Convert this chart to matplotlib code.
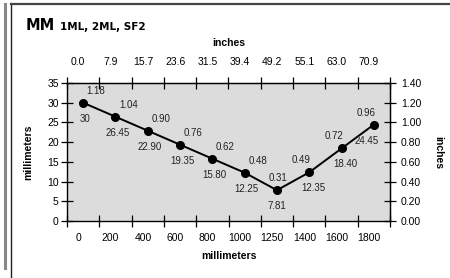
import matplotlib
matplotlib.use("Agg")
import matplotlib.pyplot as plt
import numpy as np
from matplotlib.lines import Line2D

# categories along the bottom (mm) and top (inches)
mm_labels = ["0", "200", "400", "600", "800", "1000", "1250", "1400", "1600", "1800"]
inch_labels = ["0.0", "7.9", "15.7", "23.6", "31.5", "39.4", "49.2", "55.1", "63.0", "70.9"]

# series values
mm_values = [30, 26.45, 22.90, 19.35, 15.80, 12.25, 7.81, 12.35, 18.40, 24.45]
inch_values = [1.18, 1.04, 0.90, 0.76, 0.62, 0.48, 0.31, 0.49, 0.72, 0.96]
mm_value_text = ["30", "26.45", "22.90", "19.35", "15.80", "12.25", "7.81", "12.35", "18.40", "24.45"]

left_ticks = [0, 5, 10, 15, 20, 25, 30, 35]
right_ticks = [0.0, 0.2, 0.4, 0.6, 0.8, 1.0, 1.2, 1.4]


def main():
    plt.rcParams['font.family'] = ['Liberation Sans Narrow', 'Liberation Sans', 'DejaVu Sans']
    fig = plt.figure(figsize=(4.5, 2.78), dpi=100)

    # page frame lines
    fig.add_artist(Line2D([5 / 450, 5 / 450], [10 / 278, 274 / 278], color="#888888", lw=2.2))
    fig.add_artist(Line2D([11 / 450, 11 / 450], [0, 274 / 278], color="#222222", lw=1.0))
    fig.add_artist(Line2D([11 / 450, 1], [274 / 278, 274 / 278], color="#444444", lw=1.6))

    ax = fig.add_axes([67 / 450, 1 - 221 / 278, 323 / 450, 138 / 278])
    ax.set_facecolor("#dcdcdc")
    n = len(mm_values)
    xs = np.arange(n) + 0.5
    ax.plot(xs, mm_values, color="black", lw=1.4, marker="o", markersize=5.5, zorder=3)
    ax.set_xlim(0, n)
    ax.set_ylim(0, 35)

    for spine in ax.spines.values():
        spine.set_linewidth(1.0)

    # data labels
    for i, (x, y) in enumerate(zip(xs, mm_values)):
        if i < 6:
            dx, mdx = 13, 2
        elif i == 6:
            dx, mdx = 1, 0
        else:
            dx, mdx = -8, 4
        if i == n - 1:
            mdx = -7
        ax.annotate(f"{inch_values[i]:.2f}", (x, y), xytext=(dx, 12), textcoords="offset pixels",
                    ha="center", va="center", fontsize=7, color="#222222")
        ax.annotate(mm_value_text[i], (x, y), xytext=(mdx, -16), textcoords="offset pixels",
                    ha="center", va="center", fontsize=7, color="#222222")

    # bottom axis: tick marks at boundaries, labels shifted between
    shift = 0.35
    ax.set_xticks(np.arange(n + 1))
    ax.set_xticklabels([])
    ax.set_xticks(np.arange(n) + shift, minor=True)
    ax.set_xticklabels(mm_labels, minor=True)
    ax.tick_params(axis="x", which="major", direction="inout", length=8, width=0.9)
    ax.tick_params(axis="x", which="minor", length=0, pad=8.5, labelsize=7.5)

    ax.set_yticks(left_ticks)
    ax.tick_params(axis="y", direction="inout", length=8, width=0.9, labelsize=7.5, pad=2)

    top = ax.secondary_xaxis("top")
    top.set_xticks(np.arange(n + 1))
    top.set_xticklabels([])
    top.set_xticks(np.arange(n) + shift, minor=True)
    top.set_xticklabels(inch_labels, minor=True)
    top.tick_params(axis="x", which="major", direction="inout", length=8, width=0.9)
    top.tick_params(axis="x", which="minor", length=0, pad=11.5, labelsize=7.5)
    top.set_xlabel("inches", fontsize=7.5, fontweight="bold", labelpad=8)

    right = ax.secondary_yaxis("right", functions=(lambda v: v / 25, lambda v: v * 25))
    right.set_yticks(right_ticks)
    right.set_yticklabels([f"{t:.2f}" for t in right_ticks])
    right.tick_params(axis="y", direction="inout", length=8, width=0.9, labelsize=7.5, pad=4)
    right.set_ylabel("inches", fontsize=7.5, fontweight="bold", rotation=270, labelpad=16)

    ax.set_xlabel("millimeters", fontsize=7.5, fontweight="bold", labelpad=6)
    ax.set_ylabel("millimeters", fontsize=7.5, fontweight="bold", labelpad=10)

    fig.text(26 / 450, 1 - 30 / 278, "MM", fontsize=10.5, fontweight="bold", family="DejaVu Sans")
    fig.text(60 / 450, 1 - 30 / 278, "1ML, 2ML, SF2", fontsize=7.5, fontweight="bold", family="DejaVu Sans")

    fig.savefig("out.png", dpi=100)


if __name__ == "__main__":
    main()
